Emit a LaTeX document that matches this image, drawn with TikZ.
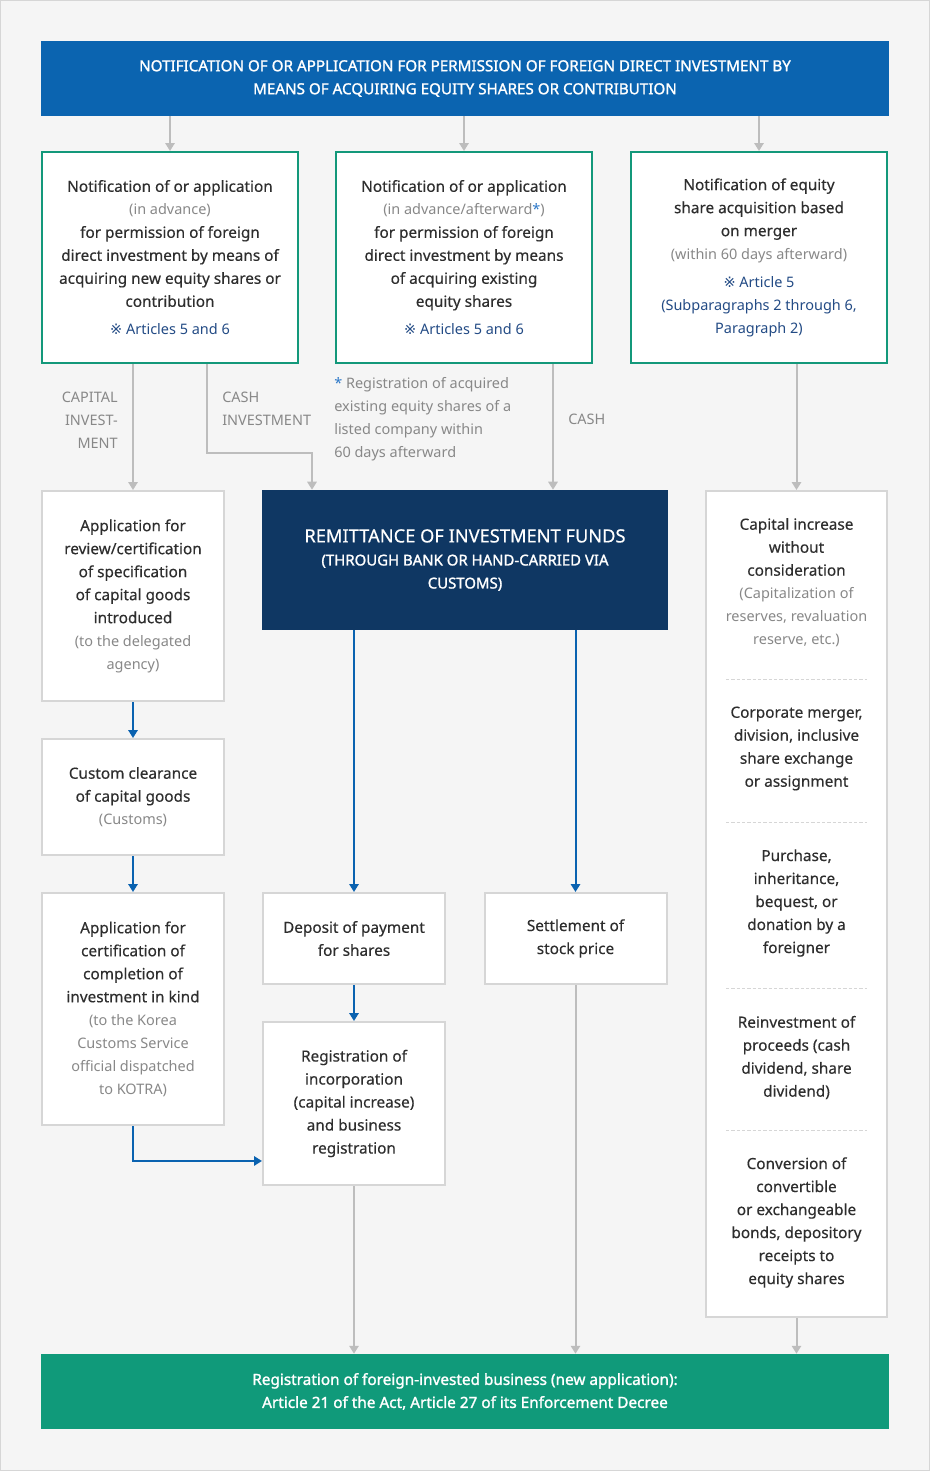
\documentclass[tikz,border=0pt]{standalone}
\usepackage{fontspec}
\setmainfont{Noto Sans}
\newfontfamily\medfont{Noto Sans}[FakeBold=0.35]
\newfontfamily\boldfont{Noto Sans}[FakeBold=1.4]
\newfontfamily\symfont{DejaVu Sans}
\usetikzlibrary{arrows.meta,positioning,calc}

\definecolor{headblue}{HTML}{0B64B0}
\definecolor{remitnavy}{HTML}{0F3763}
\definecolor{regteal}{HTML}{109A7A}
\definecolor{boxgreen}{HTML}{13987A}
\definecolor{linegray}{HTML}{BDBDBD}
\definecolor{boxgray}{HTML}{D6D6D6}
\definecolor{txtdark}{HTML}{2E2E2E}
\definecolor{txtlight}{HTML}{888888}
\definecolor{artblue}{HTML}{234B85}
\definecolor{starblue}{HTML}{2D78C8}
\definecolor{bgpage}{HTML}{F5F5F5}
\definecolor{arrowblue}{HTML}{0A62B0}

\newcommand\lighttxt[1]{{\rmfamily\fontsize{10.85}{17.25}\selectfont\color{txtlight}#1}}
\newcommand\bluetxt[1]{{\rmfamily\fontsize{10.85}{17.25}\selectfont\color{artblue}#1}}
\newcommand\artref[1]{\bluetxt{{\symfont ※}#1}}

\begin{document}
\begin{tikzpicture}[x=0.75pt, y=-0.75pt,
        >={Triangle[width=7pt,length=6pt]},
    every node/.style = {align=center, inner sep=0pt, text=txtdark,
                         font=\medfont\fontsize{11.5}{17.25}\selectfont},
      bandbox/.style = {minimum width=636pt, minimum height=56.25pt, text=white,
                         font=\boldfont\fontsize{11.4}{17.25}\selectfont},
      greenbox/.style = {draw=boxgreen, line width=1.5pt, fill=white,
                         minimum width=192pt, minimum height=158.25pt},
      graybox/.style = {draw=boxgray, line width=1.5pt, fill=white,
                         minimum width=136.5pt},
      sidelabel/.style = {text=txtlight, font=\rmfamily\fontsize{10.85}{17.25}\selectfont},
      grayline/.style = {draw=linegray, line width=1.5pt},
      grayarrow/.style = {grayline, ->, linegray},
      bluearrow/.style = {draw=arrowblue, line width=1.5pt, ->, arrowblue},
      sepline/.style = {draw=boxgray, line width=0.75pt, dash pattern=on 2.5pt off 1.5pt},
                            ]
    \useasboundingbox (0,0) rectangle (930,1471);
    \fill[bgpage, draw=boxgray, line width=1.2pt] (0.5,0.5) rectangle (929.5,1470.5);

    % top band
    \node[bandbox, fill=headblue] (head) at (465,78.5)
        {NOTIFICATION OF OR APPLICATION FOR PERMISSION OF FOREIGN DIRECT INVESTMENT BY\\
         MEANS OF ACQUIRING EQUITY SHARES OR CONTRIBUTION};

    % three kinds of notification
    \node[greenbox] (n1) at (170,257.5)
        {Notification of or application\\ \lighttxt{(in advance)}\\ for permission of foreign\\
         direct investment by means of\\ acquiring new equity shares or\\ contribution\\[3.75pt]
         \artref{ Articles 5 and 6}};
    \node[greenbox] (n2) at (464,257.5)
        {Notification of or application\\ \lighttxt{(in advance/afterward{\color{starblue}*})}\\
         for permission of foreign\\ direct investment by means\\ of acquiring existing\\
         equity shares\\[3.75pt] \artref{ Articles 5 and 6}};
    \node[greenbox] (n3) at (759,257.5)
        {Notification of equity\\ share acquisition based\\ on merger\\
         \lighttxt{(within 60 days afterward)}\\[3.75pt] \artref{ Article 5}\\
         \bluetxt{(Subparagraphs 2 through 6,}\\ \bluetxt{Paragraph 2)}};

    \foreach \n in {n1,n2,n3}
      \draw[grayarrow] (head.south -| \n.north) -- (\n.north);

    % labels on the lines
    \node[sidelabel, anchor=east, align=right] (lcap) at (118,420) {CAPITAL\\ INVEST-\\ MENT};
    \node[sidelabel, anchor=west, align=left] (lcash) at (222,408.5) {CASH\\ INVESTMENT};
    \node[sidelabel, anchor=west, align=left] (lnote) at (334,419.5)
        {{\color{starblue}*} Registration of acquired\\ existing equity shares of a\\
         listed company within\\ 60 days afterward};
    \node[sidelabel, anchor=west] (lcash2) at (568,419) {CASH};

    % left column: investment in kind
    \node[graybox, minimum height=157.5pt] (ka) at (133,596)
        {Application for\\ review/certification\\ of specification\\ of capital goods\\
         introduced\\ \lighttxt{(to the delegated}\\ \lighttxt{agency)}};
    \node[graybox, minimum height=87pt] (kb) at (133,797)
        {Custom clearance\\ of capital goods\\ \lighttxt{(Customs)}};
    \node[graybox, minimum height=174pt] (kc) at (133,1009)
        {Application for\\ certification of\\ completion of\\ investment in kind\\
         \lighttxt{(to the Korea}\\ \lighttxt{Customs Service}\\ \lighttxt{official dispatched}\\
         \lighttxt{to KOTRA)}};

    % remittance
    \node[fill=remitnavy, minimum width=304.5pt, minimum height=105pt, text=white,
          font=\boldfont\fontsize{11.2}{17.25}\selectfont] (remit) at (465,560)
        {{\medfont\fontsize{13.7}{17.25}\selectfont REMITTANCE OF INVESTMENT FUNDS}\\
         (THROUGH BANK OR HAND-CARRIED VIA\\ CUSTOMS)};

    \node[graybox, minimum height=68.25pt] (dep) at (354,938.5)
        {Deposit of payment\\ for shares};
    \node[graybox, minimum height=68.25pt] (settle) at (575.5,938.5)
        {Settlement of\\ stock price};
    \node[graybox, minimum height=122.25pt] (reg) at (354,1103.5)
        {Registration of\\ incorporation\\ (capital increase)\\ and business\\ registration};

    % right column: other ways of acquisition
    \node[graybox, minimum width=135.75pt, minimum height=619.5pt] (rcol) at (796.5,904) {};
    \node (rc1) at (796.5,582.5) {Capital increase\\ without\\ consideration\\
         \lighttxt{(Capitalization of}\\ \lighttxt{reserves, revaluation}\\ \lighttxt{reserve, etc.)}};
    \node (rc2) at (796.5,748.5) {Corporate merger,\\ division, inclusive\\ share exchange\\ or assignment};
    \node (rc3) at (796.5,903) {Purchase,\\ inheritance,\\ bequest, or\\ donation by a\\ foreigner};
    \node (rc4) at (796.5,1057.5) {Reinvestment of\\ proceeds (cash\\ dividend, share\\ dividend)};
    \node (rc5) at (796.5,1222.5) {Conversion of\\ convertible\\ or exchangeable\\
         bonds, depository\\ receipts to\\ equity shares};
    \foreach \y in {679,822,988,1130}
      \draw[sepline] (726,\y) -- (867,\y);

    % bottom band
    \node[bandbox, fill=regteal, font=\boldfont\fontsize{11.5}{17.25}\selectfont] (final) at (465,1391.5)
        {Registration of foreign-invested business (new application):\\
         Article 21 of the Act, Article 27 of its Enforcement Decree};

    % gray connectors
    \coordinate (cin) at ([xshift=27.75pt]n1.south);
    \coordinate (rin) at ([xshift=-114.75pt]remit.north);
    \coordinate (cashin) at ([xshift=66pt]remit.north);
    \draw[grayarrow] (n1.south -| ka.north) -- (ka.north);
    \draw[grayarrow] (cin) -- ++(0,89) -| (rin);
    \draw[grayarrow] (n2.south -| cashin) -- (cashin);
    \draw[grayarrow] (n3.south -| rcol.north) -- (rcol.north);
    \foreach \n in {reg,settle,rcol}
      \draw[grayarrow] (\n.south) -- (final.north -| \n.south);

    % blue connectors
    \draw[bluearrow] (ka) -- (kb);
    \draw[bluearrow] (kb) -- (kc);
    \draw[bluearrow] (remit.south -| dep.north) -- (dep.north);
    \draw[bluearrow] (remit.south -| settle.north) -- (settle.north);
    \draw[bluearrow] (dep) -- (reg);
    \draw[bluearrow] (kc.south) |- ([yshift=-43.1pt]reg.west);
\end{tikzpicture}
\end{document}
